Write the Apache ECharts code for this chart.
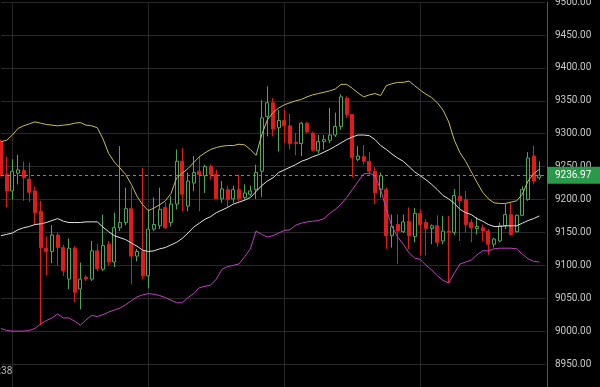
<!DOCTYPE html>
<html><head><meta charset="utf-8">
<script src="https://cdn.jsdelivr.net/npm/echarts@6.0.0/dist/echarts.min.js"></script>
<style>html,body{margin:0;padding:0;background:#000;}#c{width:600px;height:387px;}</style>
</head><body><div id="c"></div><script>
// ---- data ----
const opens = [9288,9238,9213,9240,9244,9231,9213,9182,9126,9121,
9146,9127,9079,9126,9064,9082,9079,9122,9094,9132,
9105,9157,9165,9186,9114,9121,9084,9155,9160,9188,
9165,9193,9258,9190,9225,9243,9236,9250,9238,9201,
9215,9201,9215,9203,9208,9215,9243,9326,9347,9309,
9320,9312,9287,9285,9316,9301,9274,9288,9290,9298,
9311,9354,9329,9261,9265,9258,9243,9215,9215,9145,
9162,9151,9167,9144,9179,9165,9156,9160,9137,9152,
9150,9205,9200,9165,9156,9157,9152,9132,9137,9160,
9177,9151,9176,9200,9266,9233];
const closes = [9238,9213,9243,9245,9233,9211,9180,9127,9121,9146,
9127,9092,9126,9059,9079,9079,9122,9095,9130,9105,
9157,9165,9186,9114,9121,9084,9155,9162,9185,9157,
9193,9258,9208,9228,9241,9238,9250,9238,9201,9216,
9200,9215,9201,9210,9213,9241,9324,9347,9307,9320,
9312,9285,9285,9316,9303,9275,9288,9291,9298,9311,
9356,9329,9264,9266,9258,9243,9210,9236,9145,9159,
9152,9166,9145,9179,9162,9156,9160,9135,9152,9150,
9206,9198,9162,9157,9159,9152,9132,9140,9160,9177,
9147,9176,9215,9263,9228,9236.97];
const lows = [9235,9188,9200,9223,9198,9196,9162,9009,9085,9103,
9099,9084,9064,9044,9033,9076,9076,9091,9091,9100,
9097,9152,9161,9071,9106,9079,9065,9152,9155,9155,
9159,9185,9182,9182,9213,9182,9210,9230,9201,9195,
9188,9195,9198,9200,9205,9201,9204,9296,9296,9273,
9286,9276,9267,9266,9301,9273,9270,9276,9286,9295,
9306,9324,9234,9258,9253,9238,9193,9203,9125,9127,
9102,9149,9125,9135,9115,9115,9132,9128,9132,9073,
9146,9137,9150,9135,9147,9137,9116,9127,9135,9155,
9145,9150,9175,9198,9223,9230];
const highs = [9291,9265,9261,9268,9258,9256,9220,9198,9144,9161,
9150,9131,9141,9129,9104,9085,9137,9132,9177,9137,
9180,9281,9218,9218,9125,9248,9185,9203,9218,9196,
9205,9276,9278,9241,9266,9266,9253,9253,9245,9228,
9221,9221,9238,9223,9221,9253,9351,9372,9354,9336,
9336,9330,9301,9318,9318,9303,9298,9298,9339,9332,
9360,9357,9329,9281,9283,9272,9249,9241,9218,9177,
9177,9177,9188,9187,9185,9170,9162,9176,9175,9175,
9216,9238,9213,9170,9173,9162,9155,9142,9165,9193,
9195,9177,9220,9272,9282,9258];
const upperBand = [9288,9290,9298,9308,9312,9315,9318,9316,9314,9313,
9312,9313,9314,9316,9317,9313,9312,9309,9292,9270,
9257,9248,9238,9223,9205,9192,9183,9187,9192,9198,
9209,9233,9240,9247,9256,9265,9271,9276,9279,9281,
9282,9282,9284,9283,9276,9267,9298,9321,9332,9339,
9344,9347,9350,9352,9356,9359,9361,9363,9365,9368,
9375,9375,9369,9362,9356,9359,9361,9358,9373,9376,
9378,9378,9380,9373,9366,9360,9355,9347,9336,9318,
9290,9271,9258,9242,9226,9211,9201,9195,9194,9194,
9196,9198,9208,9228,9239,9246];
const middleBand = [9145,9147,9149,9154,9157,9159,9162,9163,9165,9168,
9171,9167,9165,9165,9165,9166,9166,9166,9158,9151,
9145,9142,9139,9134,9129,9123,9121,9122,9125,9127,
9131,9135,9141,9149,9158,9164,9170,9174,9180,9184,
9188,9193,9196,9199,9203,9212,9221,9228,9233,9241,
9245,9249,9253,9258,9261,9265,9268,9272,9276,9281,
9286,9291,9295,9298,9298,9297,9291,9282,9276,9269,
9263,9258,9250,9242,9236,9230,9223,9215,9206,9201,
9194,9185,9180,9177,9171,9167,9162,9159,9159,9160,
9160,9160,9164,9168,9171,9175];
const lowerBand = [9004,9001,9000,9000,9000,9001,9004,9011,9016,9020,
9026,9020,9020,9015,9009,9017,9024,9022,9025,9029,
9032,9035,9040,9046,9052,9055,9057,9056,9054,9051,
9047,9043,9043,9051,9057,9066,9068,9070,9079,9094,
9098,9100,9102,9113,9125,9152,9147,9143,9145,9149,
9153,9154,9161,9164,9166,9167,9168,9171,9179,9185,
9193,9203,9215,9227,9239,9240,9236,9215,9185,9159,
9143,9132,9119,9111,9109,9100,9093,9084,9077,9073,
9088,9102,9105,9108,9116,9122,9122,9125,9126,9126,
9126,9125,9117,9110,9106,9105];
const lastPrice = 9236.97;
const yMin = 8900, yMax = 9500, yStep = 50;
// time labels, one per candle plus one empty slot on the right
const startHour = 9, startMinute = 28, stepMinutes = 5, slotCount = 97;
const categories = [];
for (let i = 0; i < slotCount; i++) {
  const t = startHour * 60 + startMinute + i * stepMinutes;
  const h = Math.floor(t / 60) % 24, m = t % 60;
  categories.push((h < 10 ? '0' : '') + h + ':' + (m < 10 ? '0' : '') + m);
}
const labelIndex = 2, gridEvery = 24;

const candles = opens.map((o, i) => [o, closes[i], lows[i], highs[i]]);

const gridColor = '#282828';
const priceGreen = '#2fb552';
const font = 'Roboto, "Open Sans", sans-serif';
const chart = echarts.init(document.getElementById('c'), null, {renderer: 'canvas'});
chart.setOption({
  backgroundColor: '#000',
  animation: false,
  grid: {left: 1, right: 55, top: 2.1, bottom: -9.9, containLabel: false, outerBoundsMode: 'none'},
  xAxis: {
    type: 'category', data: categories, boundaryGap: false,
    axisLine: {show: false}, axisTick: {show: false},
    axisLabel: {
      inside: true, margin: 20, color: '#bbbbbb', fontSize: 10, fontFamily: font,
      align: 'right',
      interval: (idx) => idx === labelIndex
    },
    splitLine: {show: true, lineStyle: {color: gridColor, width: 1},
      interval: (idx) => idx >= labelIndex && (idx - labelIndex) % gridEvery === 0}
  },
  yAxis: {
    type: 'value', position: 'right', offset: 2, min: yMin, max: yMax, interval: yStep,
    axisLine: {show: true, lineStyle: {color: '#555'}},
    axisTick: {show: false},
    axisLabel: {color: '#c8c8c8', fontSize: 10, fontFamily: font, margin: 8,
      formatter: (v) => v.toFixed(2)},
    splitLine: {show: true, lineStyle: {color: gridColor, width: 1}}
  },
  series: [
    {
      type: 'candlestick', data: candles, barWidth: 3.6, clip: false,
      itemStyle: {color: '#000', borderColor: '#4aa957', color0: '#e01b1b', borderColor0: '#e01b1b', borderWidth: 1},
      z: 2
    },
    {type: 'line', data: upperBand, symbol: 'none', lineStyle: {color: '#c8bf55', width: 1}, z: 3},
    {type: 'line', data: middleBand, symbol: 'none', lineStyle: {color: '#e2e2e2', width: 1}, z: 3},
    {type: 'line', data: lowerBand, symbol: 'none', lineStyle: {color: '#c23fc2', width: 1}, z: 3,
      markLine: {
        silent: true, symbol: ['none', 'none'],
        lineStyle: {type: [3, 3], color: priceGreen, width: 1, opacity: 1},
        label: {show: true, position: 'end', distance: 2, formatter: () => lastPrice.toFixed(2),
          backgroundColor: '#2a9a4a', color: '#ffffff', fontSize: 10, fontFamily: font,
          lineHeight: 11, padding: [3, 12, 3, 8]},
        data: [{yAxis: lastPrice, lineStyle: {color: priceGreen, type: [3, 3], width: 1}}]
      }
    }
  ]
});
</script></body></html>
